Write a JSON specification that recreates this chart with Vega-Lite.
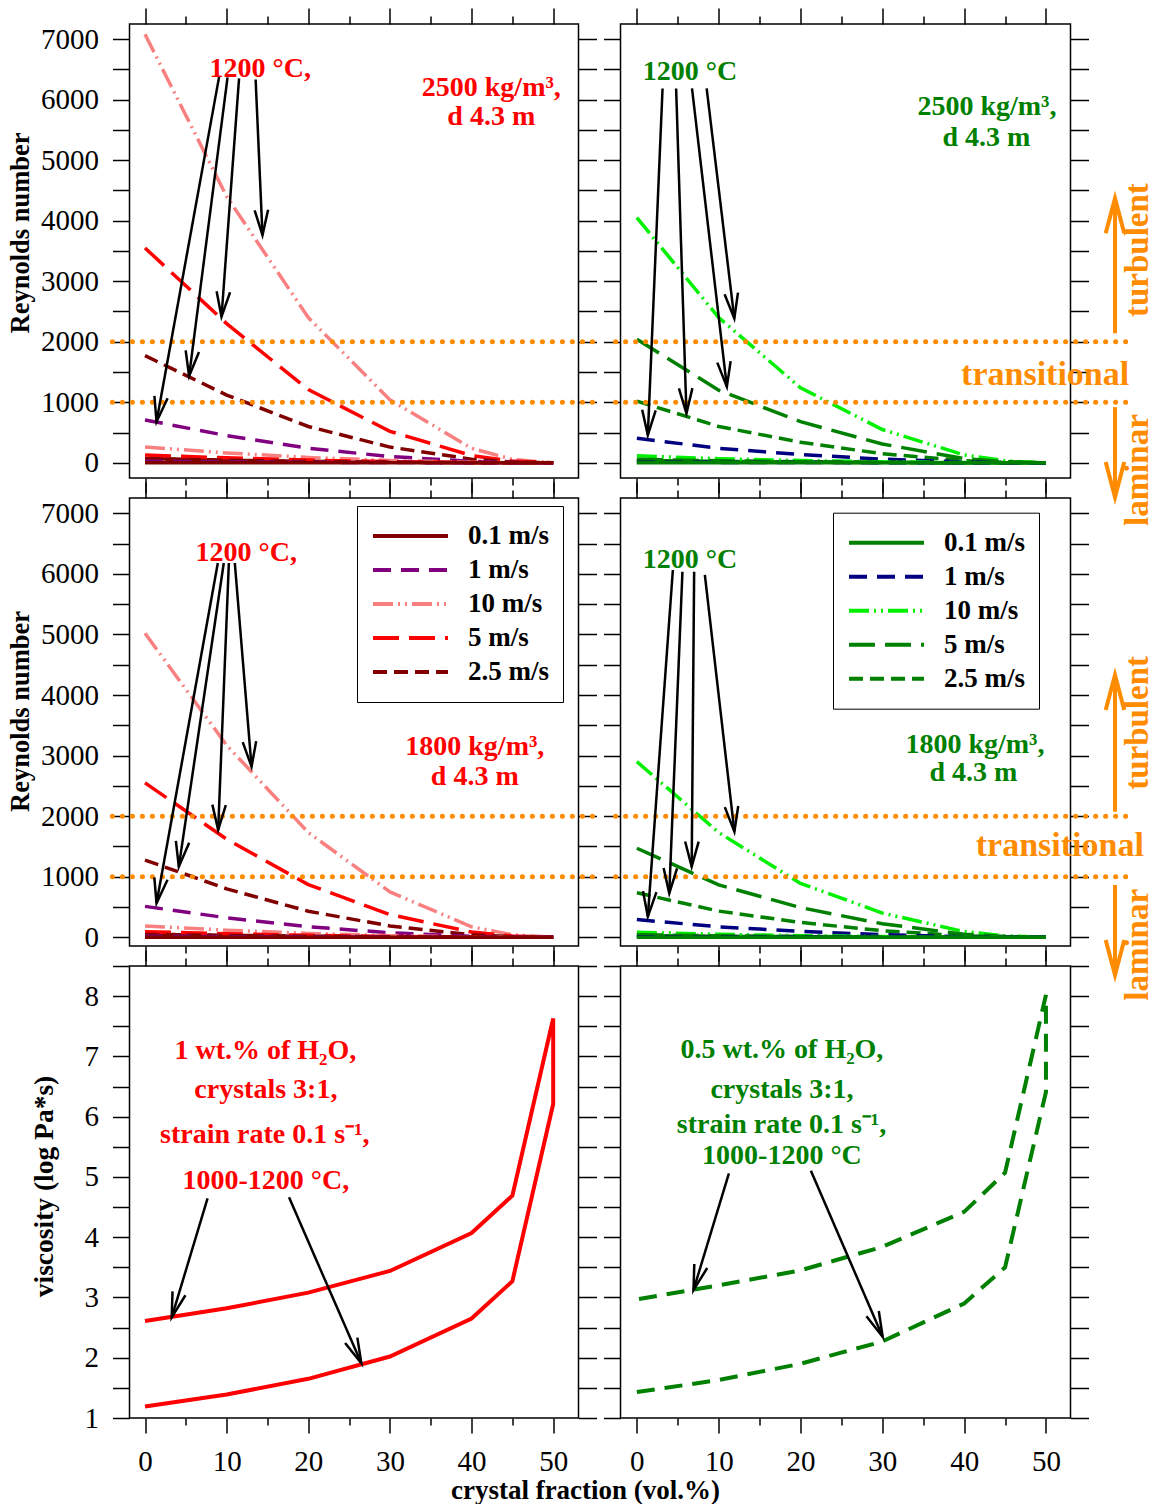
{
"$schema":"https://vega.github.io/schema/vega-lite/v6.json",
"background":"white",
"padding":{"left":6.5,"top":6,"right":0,"bottom":0},
"config":{
 "view":{"stroke":"black","strokeWidth":1.5},
 "axis":{"domain":false,"grid":false,"tickColor":"black","tickWidth":1.5,"labelFont":"Liberation Serif","labelFontSize":29,"labelColor":"black","titleFont":"Liberation Serif","titleFontSize":26.5,"titleFontWeight":"bold","titleColor":"black","labelOverlap":false,"labelFlush":false,"labelBound":false}
},
"datasets":{
"re":[
{"p":"TL","t":"h","s":"10 m/s","x":0,"y":7080},{"p":"TL","t":"h","s":"10 m/s","x":10,"y":4400},{"p":"TL","t":"h","s":"10 m/s","x":20,"y":2400},{"p":"TL","t":"h","s":"10 m/s","x":30,"y":1040},{"p":"TL","t":"h","s":"10 m/s","x":40,"y":240},{"p":"TL","t":"h","s":"10 m/s","x":45,"y":58},{"p":"TL","t":"h","s":"10 m/s","x":50,"y":0},
{"p":"TL","t":"h","s":"5 m/s","x":0,"y":3550},{"p":"TL","t":"h","s":"5 m/s","x":10,"y":2300},{"p":"TL","t":"h","s":"5 m/s","x":20,"y":1210},{"p":"TL","t":"h","s":"5 m/s","x":30,"y":520},{"p":"TL","t":"h","s":"5 m/s","x":40,"y":120},{"p":"TL","t":"h","s":"5 m/s","x":45,"y":29},{"p":"TL","t":"h","s":"5 m/s","x":50,"y":0},
{"p":"TL","t":"h","s":"2.5 m/s","x":0,"y":1770},{"p":"TL","t":"h","s":"2.5 m/s","x":10,"y":1120},{"p":"TL","t":"h","s":"2.5 m/s","x":20,"y":600},{"p":"TL","t":"h","s":"2.5 m/s","x":30,"y":260},{"p":"TL","t":"h","s":"2.5 m/s","x":40,"y":60},{"p":"TL","t":"h","s":"2.5 m/s","x":45,"y":15},{"p":"TL","t":"h","s":"2.5 m/s","x":50,"y":0},
{"p":"TL","t":"h","s":"1 m/s","x":0,"y":708},{"p":"TL","t":"h","s":"1 m/s","x":10,"y":450},{"p":"TL","t":"h","s":"1 m/s","x":20,"y":240},{"p":"TL","t":"h","s":"1 m/s","x":30,"y":104},{"p":"TL","t":"h","s":"1 m/s","x":40,"y":24},{"p":"TL","t":"h","s":"1 m/s","x":45,"y":6},{"p":"TL","t":"h","s":"1 m/s","x":50,"y":0},
{"p":"TL","t":"h","s":"0.1 m/s","x":0,"y":71},{"p":"TL","t":"h","s":"0.1 m/s","x":10,"y":44},{"p":"TL","t":"h","s":"0.1 m/s","x":20,"y":24},{"p":"TL","t":"h","s":"0.1 m/s","x":30,"y":10},{"p":"TL","t":"h","s":"0.1 m/s","x":40,"y":2.4},{"p":"TL","t":"h","s":"0.1 m/s","x":45,"y":0.6},{"p":"TL","t":"h","s":"0.1 m/s","x":50,"y":0},
{"p":"TL","t":"c","s":"10 m/s","x":0,"y":262},{"p":"TL","t":"c","s":"10 m/s","x":10,"y":163},{"p":"TL","t":"c","s":"10 m/s","x":20,"y":89},{"p":"TL","t":"c","s":"10 m/s","x":30,"y":38},{"p":"TL","t":"c","s":"10 m/s","x":40,"y":9},{"p":"TL","t":"c","s":"10 m/s","x":45,"y":2},{"p":"TL","t":"c","s":"10 m/s","x":50,"y":0},
{"p":"TL","t":"c","s":"5 m/s","x":0,"y":129},{"p":"TL","t":"c","s":"5 m/s","x":10,"y":82},{"p":"TL","t":"c","s":"5 m/s","x":20,"y":45},{"p":"TL","t":"c","s":"5 m/s","x":30,"y":19},{"p":"TL","t":"c","s":"5 m/s","x":40,"y":4.5},{"p":"TL","t":"c","s":"5 m/s","x":45,"y":1},{"p":"TL","t":"c","s":"5 m/s","x":50,"y":0},
{"p":"TL","t":"c","s":"2.5 m/s","x":0,"y":65},{"p":"TL","t":"c","s":"2.5 m/s","x":10,"y":41},{"p":"TL","t":"c","s":"2.5 m/s","x":20,"y":22},{"p":"TL","t":"c","s":"2.5 m/s","x":30,"y":10},{"p":"TL","t":"c","s":"2.5 m/s","x":40,"y":2},{"p":"TL","t":"c","s":"2.5 m/s","x":45,"y":0.5},{"p":"TL","t":"c","s":"2.5 m/s","x":50,"y":0},
{"p":"TL","t":"c","s":"1 m/s","x":0,"y":26},{"p":"TL","t":"c","s":"1 m/s","x":10,"y":16},{"p":"TL","t":"c","s":"1 m/s","x":20,"y":9},{"p":"TL","t":"c","s":"1 m/s","x":30,"y":4},{"p":"TL","t":"c","s":"1 m/s","x":40,"y":1},{"p":"TL","t":"c","s":"1 m/s","x":45,"y":0.2},{"p":"TL","t":"c","s":"1 m/s","x":50,"y":0},
{"p":"TL","t":"c","s":"0.1 m/s","x":0,"y":2.6},{"p":"TL","t":"c","s":"0.1 m/s","x":10,"y":1.6},{"p":"TL","t":"c","s":"0.1 m/s","x":20,"y":0.9},{"p":"TL","t":"c","s":"0.1 m/s","x":30,"y":0.4},{"p":"TL","t":"c","s":"0.1 m/s","x":40,"y":0.1},{"p":"TL","t":"c","s":"0.1 m/s","x":45,"y":0},{"p":"TL","t":"c","s":"0.1 m/s","x":50,"y":0},
{"p":"TR","t":"h","s":"10 m/s","x":0,"y":4050},{"p":"TR","t":"h","s":"10 m/s","x":10,"y":2400},{"p":"TR","t":"h","s":"10 m/s","x":20,"y":1240},{"p":"TR","t":"h","s":"10 m/s","x":30,"y":550},{"p":"TR","t":"h","s":"10 m/s","x":40,"y":130},{"p":"TR","t":"h","s":"10 m/s","x":45,"y":33},{"p":"TR","t":"h","s":"10 m/s","x":50,"y":0},
{"p":"TR","t":"h","s":"5 m/s","x":0,"y":2040},{"p":"TR","t":"h","s":"5 m/s","x":10,"y":1200},{"p":"TR","t":"h","s":"5 m/s","x":20,"y":680},{"p":"TR","t":"h","s":"5 m/s","x":30,"y":310},{"p":"TR","t":"h","s":"5 m/s","x":40,"y":70},{"p":"TR","t":"h","s":"5 m/s","x":45,"y":17},{"p":"TR","t":"h","s":"5 m/s","x":50,"y":0},
{"p":"TR","t":"h","s":"2.5 m/s","x":0,"y":1020},{"p":"TR","t":"h","s":"2.5 m/s","x":10,"y":600},{"p":"TR","t":"h","s":"2.5 m/s","x":20,"y":340},{"p":"TR","t":"h","s":"2.5 m/s","x":30,"y":150},{"p":"TR","t":"h","s":"2.5 m/s","x":40,"y":35},{"p":"TR","t":"h","s":"2.5 m/s","x":45,"y":8},{"p":"TR","t":"h","s":"2.5 m/s","x":50,"y":0},
{"p":"TR","t":"h","s":"1 m/s","x":0,"y":405},{"p":"TR","t":"h","s":"1 m/s","x":10,"y":240},{"p":"TR","t":"h","s":"1 m/s","x":20,"y":136},{"p":"TR","t":"h","s":"1 m/s","x":30,"y":60},{"p":"TR","t":"h","s":"1 m/s","x":40,"y":14},{"p":"TR","t":"h","s":"1 m/s","x":45,"y":3},{"p":"TR","t":"h","s":"1 m/s","x":50,"y":0},
{"p":"TR","t":"h","s":"0.1 m/s","x":0,"y":40},{"p":"TR","t":"h","s":"0.1 m/s","x":10,"y":24},{"p":"TR","t":"h","s":"0.1 m/s","x":20,"y":14},{"p":"TR","t":"h","s":"0.1 m/s","x":30,"y":6},{"p":"TR","t":"h","s":"0.1 m/s","x":40,"y":1.4},{"p":"TR","t":"h","s":"0.1 m/s","x":45,"y":0.3},{"p":"TR","t":"h","s":"0.1 m/s","x":50,"y":0},
{"p":"TR","t":"c","s":"10 m/s","x":0,"y":115},{"p":"TR","t":"c","s":"10 m/s","x":10,"y":68},{"p":"TR","t":"c","s":"10 m/s","x":20,"y":38},{"p":"TR","t":"c","s":"10 m/s","x":30,"y":16},{"p":"TR","t":"c","s":"10 m/s","x":40,"y":4},{"p":"TR","t":"c","s":"10 m/s","x":45,"y":1},{"p":"TR","t":"c","s":"10 m/s","x":50,"y":0},
{"p":"TR","t":"c","s":"5 m/s","x":0,"y":57},{"p":"TR","t":"c","s":"5 m/s","x":10,"y":34},{"p":"TR","t":"c","s":"5 m/s","x":20,"y":19},{"p":"TR","t":"c","s":"5 m/s","x":30,"y":8},{"p":"TR","t":"c","s":"5 m/s","x":40,"y":2},{"p":"TR","t":"c","s":"5 m/s","x":45,"y":0.5},{"p":"TR","t":"c","s":"5 m/s","x":50,"y":0},
{"p":"TR","t":"c","s":"2.5 m/s","x":0,"y":29},{"p":"TR","t":"c","s":"2.5 m/s","x":10,"y":17},{"p":"TR","t":"c","s":"2.5 m/s","x":20,"y":10},{"p":"TR","t":"c","s":"2.5 m/s","x":30,"y":4},{"p":"TR","t":"c","s":"2.5 m/s","x":40,"y":1},{"p":"TR","t":"c","s":"2.5 m/s","x":45,"y":0.2},{"p":"TR","t":"c","s":"2.5 m/s","x":50,"y":0},
{"p":"TR","t":"c","s":"1 m/s","x":0,"y":11},{"p":"TR","t":"c","s":"1 m/s","x":10,"y":7},{"p":"TR","t":"c","s":"1 m/s","x":20,"y":4},{"p":"TR","t":"c","s":"1 m/s","x":30,"y":1.6},{"p":"TR","t":"c","s":"1 m/s","x":40,"y":0.4},{"p":"TR","t":"c","s":"1 m/s","x":45,"y":0.1},{"p":"TR","t":"c","s":"1 m/s","x":50,"y":0},
{"p":"TR","t":"c","s":"0.1 m/s","x":0,"y":1.1},{"p":"TR","t":"c","s":"0.1 m/s","x":10,"y":0.7},{"p":"TR","t":"c","s":"0.1 m/s","x":20,"y":0.4},{"p":"TR","t":"c","s":"0.1 m/s","x":30,"y":0.2},{"p":"TR","t":"c","s":"0.1 m/s","x":40,"y":0},{"p":"TR","t":"c","s":"0.1 m/s","x":45,"y":0},{"p":"TR","t":"c","s":"0.1 m/s","x":50,"y":0},
{"p":"ML","t":"h","s":"10 m/s","x":0,"y":5020},{"p":"ML","t":"h","s":"10 m/s","x":10,"y":3170},{"p":"ML","t":"h","s":"10 m/s","x":20,"y":1730},{"p":"ML","t":"h","s":"10 m/s","x":30,"y":750},{"p":"ML","t":"h","s":"10 m/s","x":40,"y":173},{"p":"ML","t":"h","s":"10 m/s","x":45,"y":42},{"p":"ML","t":"h","s":"10 m/s","x":50,"y":0},
{"p":"ML","t":"h","s":"5 m/s","x":0,"y":2550},{"p":"ML","t":"h","s":"5 m/s","x":10,"y":1620},{"p":"ML","t":"h","s":"5 m/s","x":20,"y":870},{"p":"ML","t":"h","s":"5 m/s","x":30,"y":375},{"p":"ML","t":"h","s":"5 m/s","x":40,"y":86},{"p":"ML","t":"h","s":"5 m/s","x":45,"y":21},{"p":"ML","t":"h","s":"5 m/s","x":50,"y":0},
{"p":"ML","t":"h","s":"2.5 m/s","x":0,"y":1275},{"p":"ML","t":"h","s":"2.5 m/s","x":10,"y":800},{"p":"ML","t":"h","s":"2.5 m/s","x":20,"y":430},{"p":"ML","t":"h","s":"2.5 m/s","x":30,"y":187},{"p":"ML","t":"h","s":"2.5 m/s","x":40,"y":43},{"p":"ML","t":"h","s":"2.5 m/s","x":45,"y":11},{"p":"ML","t":"h","s":"2.5 m/s","x":50,"y":0},
{"p":"ML","t":"h","s":"1 m/s","x":0,"y":510},{"p":"ML","t":"h","s":"1 m/s","x":10,"y":322},{"p":"ML","t":"h","s":"1 m/s","x":20,"y":173},{"p":"ML","t":"h","s":"1 m/s","x":30,"y":75},{"p":"ML","t":"h","s":"1 m/s","x":40,"y":17},{"p":"ML","t":"h","s":"1 m/s","x":45,"y":4},{"p":"ML","t":"h","s":"1 m/s","x":50,"y":0},
{"p":"ML","t":"h","s":"0.1 m/s","x":0,"y":51},{"p":"ML","t":"h","s":"0.1 m/s","x":10,"y":32},{"p":"ML","t":"h","s":"0.1 m/s","x":20,"y":17},{"p":"ML","t":"h","s":"0.1 m/s","x":30,"y":7.5},{"p":"ML","t":"h","s":"0.1 m/s","x":40,"y":1.7},{"p":"ML","t":"h","s":"0.1 m/s","x":45,"y":0.4},{"p":"ML","t":"h","s":"0.1 m/s","x":50,"y":0},
{"p":"ML","t":"c","s":"10 m/s","x":0,"y":188},{"p":"ML","t":"c","s":"10 m/s","x":10,"y":117},{"p":"ML","t":"c","s":"10 m/s","x":20,"y":64},{"p":"ML","t":"c","s":"10 m/s","x":30,"y":27},{"p":"ML","t":"c","s":"10 m/s","x":40,"y":6.5},{"p":"ML","t":"c","s":"10 m/s","x":45,"y":1.4},{"p":"ML","t":"c","s":"10 m/s","x":50,"y":0},
{"p":"ML","t":"c","s":"5 m/s","x":0,"y":93},{"p":"ML","t":"c","s":"5 m/s","x":10,"y":59},{"p":"ML","t":"c","s":"5 m/s","x":20,"y":32},{"p":"ML","t":"c","s":"5 m/s","x":30,"y":14},{"p":"ML","t":"c","s":"5 m/s","x":40,"y":3.2},{"p":"ML","t":"c","s":"5 m/s","x":45,"y":0.7},{"p":"ML","t":"c","s":"5 m/s","x":50,"y":0},
{"p":"ML","t":"c","s":"2.5 m/s","x":0,"y":46},{"p":"ML","t":"c","s":"2.5 m/s","x":10,"y":29},{"p":"ML","t":"c","s":"2.5 m/s","x":20,"y":16},{"p":"ML","t":"c","s":"2.5 m/s","x":30,"y":7},{"p":"ML","t":"c","s":"2.5 m/s","x":40,"y":1.6},{"p":"ML","t":"c","s":"2.5 m/s","x":45,"y":0.4},{"p":"ML","t":"c","s":"2.5 m/s","x":50,"y":0},
{"p":"ML","t":"c","s":"1 m/s","x":0,"y":19},{"p":"ML","t":"c","s":"1 m/s","x":10,"y":12},{"p":"ML","t":"c","s":"1 m/s","x":20,"y":6.4},{"p":"ML","t":"c","s":"1 m/s","x":30,"y":2.7},{"p":"ML","t":"c","s":"1 m/s","x":40,"y":0.6},{"p":"ML","t":"c","s":"1 m/s","x":45,"y":0.1},{"p":"ML","t":"c","s":"1 m/s","x":50,"y":0},
{"p":"ML","t":"c","s":"0.1 m/s","x":0,"y":1.9},{"p":"ML","t":"c","s":"0.1 m/s","x":10,"y":1.2},{"p":"ML","t":"c","s":"0.1 m/s","x":20,"y":0.6},{"p":"ML","t":"c","s":"0.1 m/s","x":30,"y":0.3},{"p":"ML","t":"c","s":"0.1 m/s","x":40,"y":0.1},{"p":"ML","t":"c","s":"0.1 m/s","x":45,"y":0},{"p":"ML","t":"c","s":"0.1 m/s","x":50,"y":0},
{"p":"MR","t":"h","s":"10 m/s","x":0,"y":2900},{"p":"MR","t":"h","s":"10 m/s","x":10,"y":1730},{"p":"MR","t":"h","s":"10 m/s","x":20,"y":890},{"p":"MR","t":"h","s":"10 m/s","x":30,"y":400},{"p":"MR","t":"h","s":"10 m/s","x":40,"y":94},{"p":"MR","t":"h","s":"10 m/s","x":45,"y":24},{"p":"MR","t":"h","s":"10 m/s","x":50,"y":0},
{"p":"MR","t":"h","s":"5 m/s","x":0,"y":1470},{"p":"MR","t":"h","s":"5 m/s","x":10,"y":865},{"p":"MR","t":"h","s":"5 m/s","x":20,"y":490},{"p":"MR","t":"h","s":"5 m/s","x":30,"y":223},{"p":"MR","t":"h","s":"5 m/s","x":40,"y":50},{"p":"MR","t":"h","s":"5 m/s","x":45,"y":12},{"p":"MR","t":"h","s":"5 m/s","x":50,"y":0},
{"p":"MR","t":"h","s":"2.5 m/s","x":0,"y":735},{"p":"MR","t":"h","s":"2.5 m/s","x":10,"y":432},{"p":"MR","t":"h","s":"2.5 m/s","x":20,"y":245},{"p":"MR","t":"h","s":"2.5 m/s","x":30,"y":108},{"p":"MR","t":"h","s":"2.5 m/s","x":40,"y":25},{"p":"MR","t":"h","s":"2.5 m/s","x":45,"y":6},{"p":"MR","t":"h","s":"2.5 m/s","x":50,"y":0},
{"p":"MR","t":"h","s":"1 m/s","x":0,"y":292},{"p":"MR","t":"h","s":"1 m/s","x":10,"y":173},{"p":"MR","t":"h","s":"1 m/s","x":20,"y":98},{"p":"MR","t":"h","s":"1 m/s","x":30,"y":43},{"p":"MR","t":"h","s":"1 m/s","x":40,"y":10},{"p":"MR","t":"h","s":"1 m/s","x":45,"y":2.5},{"p":"MR","t":"h","s":"1 m/s","x":50,"y":0},
{"p":"MR","t":"h","s":"0.1 m/s","x":0,"y":29},{"p":"MR","t":"h","s":"0.1 m/s","x":10,"y":17},{"p":"MR","t":"h","s":"0.1 m/s","x":20,"y":10},{"p":"MR","t":"h","s":"0.1 m/s","x":30,"y":4.3},{"p":"MR","t":"h","s":"0.1 m/s","x":40,"y":1},{"p":"MR","t":"h","s":"0.1 m/s","x":45,"y":0.2},{"p":"MR","t":"h","s":"0.1 m/s","x":50,"y":0},
{"p":"MR","t":"c","s":"10 m/s","x":0,"y":83},{"p":"MR","t":"c","s":"10 m/s","x":10,"y":49},{"p":"MR","t":"c","s":"10 m/s","x":20,"y":27},{"p":"MR","t":"c","s":"10 m/s","x":30,"y":11.5},{"p":"MR","t":"c","s":"10 m/s","x":40,"y":2.7},{"p":"MR","t":"c","s":"10 m/s","x":45,"y":0.6},{"p":"MR","t":"c","s":"10 m/s","x":50,"y":0},
{"p":"MR","t":"c","s":"5 m/s","x":0,"y":41},{"p":"MR","t":"c","s":"5 m/s","x":10,"y":24},{"p":"MR","t":"c","s":"5 m/s","x":20,"y":14},{"p":"MR","t":"c","s":"5 m/s","x":30,"y":6},{"p":"MR","t":"c","s":"5 m/s","x":40,"y":1.4},{"p":"MR","t":"c","s":"5 m/s","x":45,"y":0.3},{"p":"MR","t":"c","s":"5 m/s","x":50,"y":0},
{"p":"MR","t":"c","s":"2.5 m/s","x":0,"y":21},{"p":"MR","t":"c","s":"2.5 m/s","x":10,"y":12},{"p":"MR","t":"c","s":"2.5 m/s","x":20,"y":7},{"p":"MR","t":"c","s":"2.5 m/s","x":30,"y":3},{"p":"MR","t":"c","s":"2.5 m/s","x":40,"y":0.7},{"p":"MR","t":"c","s":"2.5 m/s","x":45,"y":0.2},{"p":"MR","t":"c","s":"2.5 m/s","x":50,"y":0},
{"p":"MR","t":"c","s":"1 m/s","x":0,"y":8},{"p":"MR","t":"c","s":"1 m/s","x":10,"y":5},{"p":"MR","t":"c","s":"1 m/s","x":20,"y":3},{"p":"MR","t":"c","s":"1 m/s","x":30,"y":1.2},{"p":"MR","t":"c","s":"1 m/s","x":40,"y":0.3},{"p":"MR","t":"c","s":"1 m/s","x":45,"y":0.1},{"p":"MR","t":"c","s":"1 m/s","x":50,"y":0},
{"p":"MR","t":"c","s":"0.1 m/s","x":0,"y":0.8},{"p":"MR","t":"c","s":"0.1 m/s","x":10,"y":0.5},{"p":"MR","t":"c","s":"0.1 m/s","x":20,"y":0.3},{"p":"MR","t":"c","s":"0.1 m/s","x":30,"y":0.1},{"p":"MR","t":"c","s":"0.1 m/s","x":40,"y":0},{"p":"MR","t":"c","s":"0.1 m/s","x":45,"y":0},{"p":"MR","t":"c","s":"0.1 m/s","x":50,"y":0}
],
"visc":[
{"p":"BL","o":1,"x":0,"y":1.19},{"p":"BL","o":2,"x":10,"y":1.39},{"p":"BL","o":3,"x":20,"y":1.65},{"p":"BL","o":4,"x":30,"y":2.02},{"p":"BL","o":5,"x":40,"y":2.65},{"p":"BL","o":6,"x":45,"y":3.27},{"p":"BL","o":7,"x":50,"y":6.21},
{"p":"BL","o":8,"x":50,"y":7.63},{"p":"BL","o":9,"x":45,"y":4.69},{"p":"BL","o":10,"x":40,"y":4.07},{"p":"BL","o":11,"x":30,"y":3.44},{"p":"BL","o":12,"x":20,"y":3.08},{"p":"BL","o":13,"x":10,"y":2.82},{"p":"BL","o":14,"x":0,"y":2.61},
{"p":"BR","o":1,"x":0,"y":1.43},{"p":"BR","o":2,"x":10,"y":1.63},{"p":"BR","o":3,"x":20,"y":1.9},{"p":"BR","o":4,"x":30,"y":2.27},{"p":"BR","o":5,"x":40,"y":2.9},{"p":"BR","o":6,"x":45,"y":3.5},{"p":"BR","o":7,"x":50,"y":6.41},
{"p":"BR","o":8,"x":50,"y":8.02},{"p":"BR","o":9,"x":45,"y":5.07},{"p":"BR","o":10,"x":40,"y":4.42},{"p":"BR","o":11,"x":30,"y":3.84},{"p":"BR","o":12,"x":20,"y":3.45},{"p":"BR","o":13,"x":10,"y":3.2},{"p":"BR","o":14,"x":0,"y":2.97}
],
"arr":[
{"p":"TL","a":"1s","o":1,"x":9.07,"y":6372},{"p":"TL","a":"1s","o":2,"x":1.41,"y":677},{"p":"TL","a":"1h","o":1,"x":2.77,"y":1066},{"p":"TL","a":"1h","o":2,"x":1.41,"y":677},{"p":"TL","a":"1h","o":3,"x":1.15,"y":1106},
{"p":"TL","a":"2s","o":1,"x":10.11,"y":6367},{"p":"TL","a":"2s","o":2,"x":5.40,"y":1432},{"p":"TL","a":"2h","o":1,"x":6.61,"y":1830},{"p":"TL","a":"2h","o":2,"x":5.40,"y":1432},{"p":"TL","a":"2h","o":3,"x":4.98,"y":1858},
{"p":"TL","a":"3s","o":1,"x":11.52,"y":6351},{"p":"TL","a":"3s","o":2,"x":9.37,"y":2412},{"p":"TL","a":"3h","o":1,"x":10.42,"y":2818},{"p":"TL","a":"3h","o":2,"x":9.37,"y":2412},{"p":"TL","a":"3h","o":3,"x":8.77,"y":2834},
{"p":"TL","a":"4s","o":1,"x":13.55,"y":6334},{"p":"TL","a":"4s","o":2,"x":14.39,"y":3762},{"p":"TL","a":"4h","o":1,"x":15.08,"y":4181},{"p":"TL","a":"4h","o":2,"x":14.39,"y":3762},{"p":"TL","a":"4h","o":3,"x":13.43,"y":4172},
{"p":"TR","a":"1s","o":1,"x":3.14,"y":6185},{"p":"TR","a":"1s","o":2,"x":1.34,"y":458},{"p":"TR","a":"1h","o":1,"x":2.30,"y":867},{"p":"TR","a":"1h","o":2,"x":1.34,"y":458},{"p":"TR","a":"1h","o":3,"x":0.65,"y":877},
{"p":"TR","a":"2s","o":1,"x":4.80,"y":6185},{"p":"TR","a":"2s","o":2,"x":6.06,"y":816},{"p":"TR","a":"2h","o":1,"x":6.79,"y":1234},{"p":"TR","a":"2h","o":2,"x":6.06,"y":816},{"p":"TR","a":"2h","o":3,"x":5.14,"y":1228},
{"p":"TR","a":"3s","o":1,"x":6.74,"y":6185},{"p":"TR","a":"3s","o":2,"x":11.00,"y":1256},{"p":"TR","a":"3h","o":1,"x":11.46,"y":1681},{"p":"TR","a":"3h","o":2,"x":11.00,"y":1256},{"p":"TR","a":"3h","o":3,"x":9.83,"y":1655},
{"p":"TR","a":"4s","o":1,"x":8.53,"y":6185},{"p":"TR","a":"4s","o":2,"x":11.91,"y":2386},{"p":"TR","a":"4h","o":1,"x":12.36,"y":2811},{"p":"TR","a":"4h","o":2,"x":11.91,"y":2386},{"p":"TR","a":"4h","o":3,"x":10.72,"y":2784},
{"p":"ML","a":"1s","o":1,"x":8.92,"y":6180},{"p":"ML","a":"1s","o":2,"x":1.41,"y":561},{"p":"ML","a":"1h","o":1,"x":2.76,"y":950},{"p":"ML","a":"1h","o":2,"x":1.41,"y":561},{"p":"ML","a":"1h","o":3,"x":1.14,"y":989},
{"p":"ML","a":"2s","o":1,"x":9.65,"y":6180},{"p":"ML","a":"2s","o":2,"x":4.14,"y":1166},{"p":"ML","a":"2h","o":1,"x":5.41,"y":1560},{"p":"ML","a":"2h","o":2,"x":4.14,"y":1166},{"p":"ML","a":"2h","o":3,"x":3.78,"y":1592},
{"p":"ML","a":"3s","o":1,"x":10.27,"y":6180},{"p":"ML","a":"3s","o":2,"x":8.96,"y":1772},{"p":"ML","a":"3h","o":1,"x":9.90,"y":2181},{"p":"ML","a":"3h","o":2,"x":8.96,"y":1772},{"p":"ML","a":"3h","o":3,"x":8.25,"y":2190},
{"p":"ML","a":"4s","o":1,"x":11.0,"y":6180},{"p":"ML","a":"4s","o":2,"x":13.05,"y":2817},{"p":"ML","a":"4h","o":1,"x":13.62,"y":3239},{"p":"ML","a":"4h","o":2,"x":13.05,"y":2817},{"p":"ML","a":"4h","o":3,"x":11.97,"y":3221},
{"p":"MR","a":"1s","o":1,"x":4.40,"y":6064},{"p":"MR","a":"1s","o":2,"x":1.34,"y":340},{"p":"MR","a":"1h","o":1,"x":2.39,"y":746},{"p":"MR","a":"1h","o":2,"x":1.34,"y":340},{"p":"MR","a":"1h","o":3,"x":0.75,"y":762},
{"p":"MR","a":"2s","o":1,"x":5.57,"y":6036},{"p":"MR","a":"2s","o":2,"x":3.96,"y":726},{"p":"MR","a":"2h","o":1,"x":4.91,"y":1136},{"p":"MR","a":"2h","o":2,"x":3.96,"y":726},{"p":"MR","a":"2h","o":3,"x":3.27,"y":1145},
{"p":"MR","a":"3s","o":1,"x":7.00,"y":6036},{"p":"MR","a":"3s","o":2,"x":6.70,"y":1166},{"p":"MR","a":"3h","o":1,"x":7.55,"y":1579},{"p":"MR","a":"3h","o":2,"x":6.70,"y":1166},{"p":"MR","a":"3h","o":3,"x":5.90,"y":1581},
{"p":"MR","a":"4s","o":1,"x":8.31,"y":5982},{"p":"MR","a":"4s","o":2,"x":11.92,"y":1743},{"p":"MR","a":"4h","o":1,"x":12.39,"y":2168},{"p":"MR","a":"4h","o":2,"x":11.92,"y":1743},{"p":"MR","a":"4h","o":3,"x":10.75,"y":2149},
{"p":"BL","a":"1s","o":1,"x":7.66,"y":4.644},{"p":"BL","a":"1s","o":2,"x":3.27,"y":2.670},{"p":"BL","a":"1h","o":1,"x":4.95,"y":3.037},{"p":"BL","a":"1h","o":2,"x":3.27,"y":2.670},{"p":"BL","a":"1h","o":3,"x":3.37,"y":3.101},
{"p":"BL","a":"2s","o":1,"x":17.64,"y":4.661},{"p":"BL","a":"2s","o":2,"x":26.50,"y":1.907},{"p":"BL","a":"2h","o":1,"x":26.01,"y":2.334},{"p":"BL","a":"2h","o":2,"x":26.50,"y":1.907},{"p":"BL","a":"2h","o":3,"x":24.51,"y":2.245},
{"p":"BR","a":"1s","o":1,"x":11.25,"y":5.059},{"p":"BR","a":"1s","o":2,"x":6.92,"y":3.123},{"p":"BR","a":"1h","o":1,"x":8.60,"y":3.489},{"p":"BR","a":"1h","o":2,"x":6.92,"y":3.123},{"p":"BR","a":"1h","o":3,"x":7.02,"y":3.554},
{"p":"BR","a":"2s","o":1,"x":21.27,"y":5.102},{"p":"BR","a":"2s","o":2,"x":30.04,"y":2.348},{"p":"BR","a":"2h","o":1,"x":29.57,"y":2.775},{"p":"BR","a":"2h","o":2,"x":30.04,"y":2.348},{"p":"BR","a":"2h","o":3,"x":28.06,"y":2.687},
{"p":"TRo","a":"us","o":1,"x":58.44,"y":2139},{"p":"TRo","a":"us","o":2,"x":58.44,"y":4369},{"p":"TRo","a":"uh","o":1,"x":57.30,"y":3792},{"p":"TRo","a":"uh","o":2,"x":58.44,"y":4369},{"p":"TRo","a":"uh","o":3,"x":59.57,"y":3792},
{"p":"TRo","a":"ds","o":1,"x":58.44,"y":920},{"p":"TRo","a":"ds","o":2,"x":58.44,"y":-568},{"p":"TRo","a":"dh","o":1,"x":57.30,"y":12},{"p":"TRo","a":"dh","o":2,"x":58.44,"y":-568},{"p":"TRo","a":"dh","o":3,"x":59.57,"y":12},
{"p":"MRo","a":"us","o":1,"x":58.44,"y":2074},{"p":"MRo","a":"us","o":2,"x":58.44,"y":4331},{"p":"MRo","a":"uh","o":1,"x":57.30,"y":3752},{"p":"MRo","a":"uh","o":2,"x":58.44,"y":4331},{"p":"MRo","a":"uh","o":3,"x":59.57,"y":3752},
{"p":"MRo","a":"ds","o":1,"x":58.44,"y":863},{"p":"MRo","a":"ds","o":2,"x":58.44,"y":-622},{"p":"MRo","a":"dh","o":1,"x":57.30,"y":-45},{"p":"MRo","a":"dh","o":2,"x":58.44,"y":-622},{"p":"MRo","a":"dh","o":3,"x":59.57,"y":-45}
],
"rules":[
{"p":"TL","x":-4,"x2":55.6,"y":2000},{"p":"TL","x":-4,"x2":55.6,"y":1000},
{"p":"TR","x":-2.6,"x2":60.3,"y":2000},{"p":"TR","x":-2.6,"x2":60.3,"y":1000},
{"p":"ML","x":-4,"x2":55.6,"y":2000},{"p":"ML","x":-4,"x2":55.6,"y":1000},
{"p":"MR","x":-2.6,"x2":60.3,"y":2000},{"p":"MR","x":-2.6,"x2":60.3,"y":1000}
],
"txt":[
{"p":"TL","x":14.12,"y":6380,"t":"1200 °C,"},{"p":"TL","x":42.42,"y":6058,"t":"2500 kg/m³,"},{"p":"TL","x":42.42,"y":5579,"t":"d 4.3 m"},
{"p":"TR","x":6.48,"y":6323,"t":"1200 °C"},{"p":"TR","x":42.79,"y":5753,"t":"2500 kg/m³,"},{"p":"TR","x":42.73,"y":5232,"t":"d 4.3 m"},
{"p":"ML","x":12.41,"y":6213,"t":"1200 °C,"},{"p":"ML","x":40.40,"y":3010,"t":"1800 kg/m³,"},{"p":"ML","x":40.40,"y":2514,"t":"d 4.3 m"},
{"p":"MR","x":6.48,"y":6097,"t":"1200 °C"},{"p":"MR","x":41.32,"y":3043,"t":"1800 kg/m³,"},{"p":"MR","x":41.14,"y":2580,"t":"d 4.3 m"},
{"p":"BL","x":14.74,"y":6.955,"t":"1 wt.% of H₂O,"},{"p":"BL","x":14.80,"y":6.313,"t":"crystals 3:1,"},{"p":"BL","x":14.68,"y":5.561,"t":"strain rate 0.1 s⁻¹,"},{"p":"BL","x":14.80,"y":4.793,"t":"1000-1200 °C,"},
{"p":"BR","x":17.73,"y":6.966,"t":"0.5 wt.% of H₂O,"},{"p":"BR","x":17.73,"y":6.303,"t":"crystals 3:1,"},{"p":"BR","x":17.68,"y":5.732,"t":"strain rate 0.1 s⁻¹,"},{"p":"BR","x":17.73,"y":5.213,"t":"1000-1200 °C"},
{"p":"TRr","x":62.47,"y":3514,"t":"turbulent"},{"p":"TRr","x":62.47,"y":-121,"t":"laminar"},{"p":"TRh","x":49.9,"y":1284,"t":"transitional"},
{"p":"MRr","x":62.47,"y":3539,"t":"turbulent"},{"p":"MRr","x":62.47,"y":-125,"t":"laminar"},{"p":"MRh","x":51.7,"y":1342,"t":"transitional"}
]
},
"columns":2,
"bounds":"flush",
"spacing":{"row":20,"column":42},
"resolve":{"scale":{"x":"independent","y":"independent","color":"independent","strokeDash":"independent"},"legend":{"color":"independent","strokeDash":"independent"}},
"concat":[
  {"width":449,"height":454,
   "layer":[
    {"data":{"name":"re"},"transform":[{"filter":"datum.p==='TL'"}],
     "mark":{"type":"line","strokeWidth":3.5,"clip":false},
     "encoding":{
      "x":{"field":"x","type":"quantitative","scale":{"domain":[-1.9,53.1],"nice":false,"zero":false},"axis":{"orient":"bottom","values":[0,5,10,15,20,25,30,35,40,45,50],"labels":false,"title":null,"tickSize":{"condition":{"test":"datum.value % 10 === 0","value":15},"value":7}}},
      "y":{"field":"y","type":"quantitative","scale":{"domain":[-251,7250],"nice":false,"zero":false},"axis":{"orient":"left","values":[0,500,1000,1500,2000,2500,3000,3500,4000,4500,5000,5500,6000,6500,7000],"labelExpr":"datum.value % 1000 === 0 ? '' + datum.value : ''","tickSize":17,"labelPadding":14,"title":"Reynolds number","titleX":-100.6,"titleY":208.5,"titleAngle":270,"titleAlign":"center","titleBaseline":"alphabetic"}},
      "color":{"field":"s","type":"nominal","scale":{"domain":["0.1 m/s","1 m/s","10 m/s","5 m/s","2.5 m/s"],"range":["#800000","#800080","#F88080","#FF0000","#800000"]},"legend":null},
      "strokeDash":{"field":"s","type":"nominal","scale":{"domain":["0.1 m/s","1 m/s","10 m/s","5 m/s","2.5 m/s"],"range":[[1,0],[18,10],[20,5,2,5,2,5],[26,10],[14,7]]},"legend":null},
      "detail":{"field":"t"}}},
    {"data":{"name":"rules"},"transform":[{"filter":"datum.p==='TL'"}],
     "mark":{"type":"rule","color":"#FF8C00","strokeWidth":5,"strokeDash":[0.1,9.9],"strokeCap":"round","clip":false},
     "encoding":{
      "x":{"field":"x","type":"quantitative","scale":{"domain":[-1.9,53.1],"nice":false,"zero":false},"axis":{"orient":"top","values":[0,5,10,15,20,25,30,35,40,45,50],"labels":false,"title":null,"tickSize":{"condition":{"test":"datum.value % 10 === 0","value":16},"value":8}}},
      "x2":{"field":"x2"},
      "y":{"field":"y","type":"quantitative","scale":{"domain":[-251,7250],"nice":false,"zero":false},"axis":{"orient":"right","values":[0,500,1000,1500,2000,2500,3000,3500,4000,4500,5000,5500,6000,6500,7000],"labels":false,"title":null,"tickSize":18}}}},
    {"data":{"name":"arr"},"transform":[{"filter":"datum.p==='TL'"}],
     "mark":{"type":"line","color":"black","strokeWidth":2.5,"clip":false},
     "encoding":{"x":{"field":"x","type":"quantitative","axis":null},"y":{"field":"y","type":"quantitative","axis":null},"detail":{"field":"a"},"order":{"field":"o"}}},
    {"data":{"name":"txt"},"transform":[{"filter":"datum.p==='TL'"}],
     "mark":{"type":"text","font":"Liberation Serif","fontWeight":"bold","fontSize":28,"color":"#FF0000","align":"center","baseline":"alphabetic","clip":false},
     "encoding":{"x":{"field":"x","type":"quantitative","axis":null},"y":{"field":"y","type":"quantitative","axis":null},"text":{"field":"t"}}}
   ],
   "resolve":{"axis":{"x":"independent","y":"independent"}}},
  {"width":450,"height":454,
   "layer":[
    {"data":{"name":"re"},"transform":[{"filter":"datum.p==='TR'"}],
     "mark":{"type":"line","strokeWidth":3.5,"clip":false},
     "encoding":{
      "x":{"field":"x","type":"quantitative","scale":{"domain":[-2,53],"nice":false,"zero":false},"axis":{"orient":"bottom","values":[0,5,10,15,20,25,30,35,40,45,50],"labels":false,"title":null,"tickSize":{"condition":{"test":"datum.value % 10 === 0","value":15},"value":7}}},
      "y":{"field":"y","type":"quantitative","scale":{"domain":[-251,7250],"nice":false,"zero":false},"axis":{"orient":"left","values":[0,500,1000,1500,2000,2500,3000,3500,4000,4500,5000,5500,6000,6500,7000],"labels":false,"title":null,"tickSize":17}},
      "color":{"field":"s","type":"nominal","scale":{"domain":["0.1 m/s","1 m/s","10 m/s","5 m/s","2.5 m/s"],"range":["#008000","#000080","#00F000","#008000","#008000"]},"legend":null},
      "strokeDash":{"field":"s","type":"nominal","scale":{"domain":["0.1 m/s","1 m/s","10 m/s","5 m/s","2.5 m/s"],"range":[[1,0],[18,10],[20,5,2,5,2,5],[26,10],[14,7]]},"legend":null},
      "detail":{"field":"t"}}},
    {"data":{"name":"rules"},"transform":[{"filter":"datum.p==='TR'"}],
     "mark":{"type":"rule","color":"#FF8C00","strokeWidth":5,"strokeDash":[0.1,9.9],"strokeCap":"round","clip":false},
     "encoding":{
      "x":{"field":"x","type":"quantitative","scale":{"domain":[-2,53],"nice":false,"zero":false},"axis":{"orient":"top","values":[0,5,10,15,20,25,30,35,40,45,50],"labels":false,"title":null,"tickSize":{"condition":{"test":"datum.value % 10 === 0","value":16},"value":8}}},
      "x2":{"field":"x2"},
      "y":{"field":"y","type":"quantitative","scale":{"domain":[-251,7250],"nice":false,"zero":false},"axis":{"orient":"right","values":[0,500,1000,1500,2000,2500,3000,3500,4000,4500,5000,5500,6000,6500,7000],"labels":false,"title":null,"tickSize":18}}}},
    {"data":{"name":"arr"},"transform":[{"filter":"datum.p==='TR'"}],
     "mark":{"type":"line","color":"black","strokeWidth":2.5,"clip":false},
     "encoding":{"x":{"field":"x","type":"quantitative","axis":null},"y":{"field":"y","type":"quantitative","axis":null},"detail":{"field":"a"},"order":{"field":"o"}}},
    {"data":{"name":"arr"},"transform":[{"filter":"datum.p==='TRo'"}],
     "mark":{"type":"line","color":"#FF8C00","strokeWidth":4,"clip":false},
     "encoding":{"x":{"field":"x","type":"quantitative","axis":null},"y":{"field":"y","type":"quantitative","axis":null},"detail":{"field":"a"},"order":{"field":"o"}}},
    {"data":{"name":"txt"},"transform":[{"filter":"datum.p==='TR'"}],
     "mark":{"type":"text","font":"Liberation Serif","fontWeight":"bold","fontSize":28,"color":"#008000","align":"center","baseline":"alphabetic","clip":false},
     "encoding":{"x":{"field":"x","type":"quantitative","axis":null},"y":{"field":"y","type":"quantitative","axis":null},"text":{"field":"t"}}},
    {"data":{"name":"txt"},"transform":[{"filter":"datum.p==='TRr'"}],
     "mark":{"type":"text","font":"Liberation Serif","fontWeight":"bold","fontSize":33,"color":"#FF8C00","align":"center","baseline":"alphabetic","angle":270,"clip":false},
     "encoding":{"x":{"field":"x","type":"quantitative","axis":null},"y":{"field":"y","type":"quantitative","axis":null},"text":{"field":"t"}}},
    {"data":{"name":"txt"},"transform":[{"filter":"datum.p==='TRh'"}],
     "mark":{"type":"text","font":"Liberation Serif","fontWeight":"bold","fontSize":34,"color":"#FF8C00","align":"center","baseline":"alphabetic","clip":false},
     "encoding":{"x":{"field":"x","type":"quantitative","axis":null},"y":{"field":"y","type":"quantitative","axis":null},"text":{"field":"t"}}}
   ],
   "resolve":{"axis":{"x":"independent","y":"independent"}}},
  {"width":449,"height":448,
   "layer":[
    {"data":{"name":"re"},"transform":[{"filter":"datum.p==='ML'"}],
     "mark":{"type":"line","strokeWidth":3.5,"clip":false},
     "encoding":{
      "x":{"field":"x","type":"quantitative","scale":{"domain":[-1.9,53.1],"nice":false,"zero":false},"axis":{"orient":"bottom","values":[0,5,10,15,20,25,30,35,40,45,50],"labels":false,"title":null,"tickSize":{"condition":{"test":"datum.value % 10 === 0","value":15},"value":7}}},
      "y":{"field":"y","type":"quantitative","scale":{"domain":[-144,7253],"nice":false,"zero":false},"axis":{"orient":"left","values":[0,500,1000,1500,2000,2500,3000,3500,4000,4500,5000,5500,6000,6500,7000],"labelExpr":"datum.value % 1000 === 0 ? '' + datum.value : ''","tickSize":17,"labelPadding":14,"title":"Reynolds number","titleX":-100.6,"titleY":213,"titleAngle":270,"titleAlign":"center","titleBaseline":"alphabetic"}},
      "color":{"field":"s","type":"nominal","scale":{"domain":["0.1 m/s","1 m/s","10 m/s","5 m/s","2.5 m/s"],"range":["#800000","#800080","#F88080","#FF0000","#800000"]},
        "legend":{"orient":"none","legendX":227.5,"legendY":8,"title":null,"symbolType":"stroke","symbolSize":5625,"symbolStrokeWidth":4,"clipHeight":32,"rowPadding":2,"labelFont":"Liberation Serif","labelFontSize":27,"labelFontWeight":"bold","labelColor":"black","labelOffset":18,"padding":14,"strokeColor":"black","fillColor":"white","labelLimit":300}},
      "strokeDash":{"field":"s","type":"nominal","scale":{"domain":["0.1 m/s","1 m/s","10 m/s","5 m/s","2.5 m/s"],"range":[[1,0],[18,10],[20,5,2,5,2,5],[26,10],[14,7]]},
        "legend":{"orient":"none","legendX":227.5,"legendY":8,"title":null,"symbolType":"stroke","symbolSize":5625,"symbolStrokeWidth":4,"clipHeight":32,"rowPadding":2,"labelFont":"Liberation Serif","labelFontSize":27,"labelFontWeight":"bold","labelColor":"black","labelOffset":18,"padding":14,"strokeColor":"black","fillColor":"white","labelLimit":300}},
      "detail":{"field":"t"}}},
    {"data":{"name":"rules"},"transform":[{"filter":"datum.p==='ML'"}],
     "mark":{"type":"rule","color":"#FF8C00","strokeWidth":5,"strokeDash":[0.1,9.9],"strokeCap":"round","clip":false},
     "encoding":{
      "x":{"field":"x","type":"quantitative","scale":{"domain":[-1.9,53.1],"nice":false,"zero":false},"axis":{"orient":"top","values":[0,5,10,15,20,25,30,35,40,45,50],"labels":false,"title":null,"tickSize":{"condition":{"test":"datum.value % 10 === 0","value":16},"value":8}}},
      "x2":{"field":"x2"},
      "y":{"field":"y","type":"quantitative","scale":{"domain":[-144,7253],"nice":false,"zero":false},"axis":{"orient":"right","values":[0,500,1000,1500,2000,2500,3000,3500,4000,4500,5000,5500,6000,6500,7000],"labels":false,"title":null,"tickSize":18}}}},
    {"data":{"name":"arr"},"transform":[{"filter":"datum.p==='ML'"}],
     "mark":{"type":"line","color":"black","strokeWidth":2.5,"clip":false},
     "encoding":{"x":{"field":"x","type":"quantitative","axis":null},"y":{"field":"y","type":"quantitative","axis":null},"detail":{"field":"a"},"order":{"field":"o"}}},
    {"data":{"name":"txt"},"transform":[{"filter":"datum.p==='ML'"}],
     "mark":{"type":"text","font":"Liberation Serif","fontWeight":"bold","fontSize":28,"color":"#FF0000","align":"center","baseline":"alphabetic","clip":false},
     "encoding":{"x":{"field":"x","type":"quantitative","axis":null},"y":{"field":"y","type":"quantitative","axis":null},"text":{"field":"t"}}}
   ],
   "resolve":{"axis":{"x":"independent","y":"independent"}}},
  {"width":450,"height":448,
   "layer":[
    {"data":{"name":"re"},"transform":[{"filter":"datum.p==='MR'"}],
     "mark":{"type":"line","strokeWidth":3.5,"clip":false},
     "encoding":{
      "x":{"field":"x","type":"quantitative","scale":{"domain":[-2,53],"nice":false,"zero":false},"axis":{"orient":"bottom","values":[0,5,10,15,20,25,30,35,40,45,50],"labels":false,"title":null,"tickSize":{"condition":{"test":"datum.value % 10 === 0","value":15},"value":7}}},
      "y":{"field":"y","type":"quantitative","scale":{"domain":[-144,7253],"nice":false,"zero":false},"axis":{"orient":"left","values":[0,500,1000,1500,2000,2500,3000,3500,4000,4500,5000,5500,6000,6500,7000],"labels":false,"title":null,"tickSize":17}},
      "color":{"field":"s","type":"nominal","scale":{"domain":["0.1 m/s","1 m/s","10 m/s","5 m/s","2.5 m/s"],"range":["#008000","#000080","#00F000","#008000","#008000"]},
        "legend":{"orient":"none","legendX":212.5,"legendY":14.7,"title":null,"symbolType":"stroke","symbolSize":5625,"symbolStrokeWidth":4,"clipHeight":32,"rowPadding":2,"labelFont":"Liberation Serif","labelFontSize":27,"labelFontWeight":"bold","labelColor":"black","labelOffset":18,"padding":14,"strokeColor":"black","fillColor":"white","labelLimit":300}},
      "strokeDash":{"field":"s","type":"nominal","scale":{"domain":["0.1 m/s","1 m/s","10 m/s","5 m/s","2.5 m/s"],"range":[[1,0],[18,10],[20,5,2,5,2,5],[26,10],[14,7]]},
        "legend":{"orient":"none","legendX":212.5,"legendY":14.7,"title":null,"symbolType":"stroke","symbolSize":5625,"symbolStrokeWidth":4,"clipHeight":32,"rowPadding":2,"labelFont":"Liberation Serif","labelFontSize":27,"labelFontWeight":"bold","labelColor":"black","labelOffset":18,"padding":14,"strokeColor":"black","fillColor":"white","labelLimit":300}},
      "detail":{"field":"t"}}},
    {"data":{"name":"rules"},"transform":[{"filter":"datum.p==='MR'"}],
     "mark":{"type":"rule","color":"#FF8C00","strokeWidth":5,"strokeDash":[0.1,9.9],"strokeCap":"round","clip":false},
     "encoding":{
      "x":{"field":"x","type":"quantitative","scale":{"domain":[-2,53],"nice":false,"zero":false},"axis":{"orient":"top","values":[0,5,10,15,20,25,30,35,40,45,50],"labels":false,"title":null,"tickSize":{"condition":{"test":"datum.value % 10 === 0","value":16},"value":8}}},
      "x2":{"field":"x2"},
      "y":{"field":"y","type":"quantitative","scale":{"domain":[-144,7253],"nice":false,"zero":false},"axis":{"orient":"right","values":[0,500,1000,1500,2000,2500,3000,3500,4000,4500,5000,5500,6000,6500,7000],"labels":false,"title":null,"tickSize":18}}}},
    {"data":{"name":"arr"},"transform":[{"filter":"datum.p==='MR'"}],
     "mark":{"type":"line","color":"black","strokeWidth":2.5,"clip":false},
     "encoding":{"x":{"field":"x","type":"quantitative","axis":null},"y":{"field":"y","type":"quantitative","axis":null},"detail":{"field":"a"},"order":{"field":"o"}}},
    {"data":{"name":"arr"},"transform":[{"filter":"datum.p==='MRo'"}],
     "mark":{"type":"line","color":"#FF8C00","strokeWidth":4,"clip":false},
     "encoding":{"x":{"field":"x","type":"quantitative","axis":null},"y":{"field":"y","type":"quantitative","axis":null},"detail":{"field":"a"},"order":{"field":"o"}}},
    {"data":{"name":"txt"},"transform":[{"filter":"datum.p==='MR'"}],
     "mark":{"type":"text","font":"Liberation Serif","fontWeight":"bold","fontSize":28,"color":"#008000","align":"center","baseline":"alphabetic","clip":false},
     "encoding":{"x":{"field":"x","type":"quantitative","axis":null},"y":{"field":"y","type":"quantitative","axis":null},"text":{"field":"t"}}},
    {"data":{"name":"txt"},"transform":[{"filter":"datum.p==='MRr'"}],
     "mark":{"type":"text","font":"Liberation Serif","fontWeight":"bold","fontSize":33,"color":"#FF8C00","align":"center","baseline":"alphabetic","angle":270,"clip":false},
     "encoding":{"x":{"field":"x","type":"quantitative","axis":null},"y":{"field":"y","type":"quantitative","axis":null},"text":{"field":"t"}}},
    {"data":{"name":"txt"},"transform":[{"filter":"datum.p==='MRh'"}],
     "mark":{"type":"text","font":"Liberation Serif","fontWeight":"bold","fontSize":34,"color":"#FF8C00","align":"center","baseline":"alphabetic","clip":false},
     "encoding":{"x":{"field":"x","type":"quantitative","axis":null},"y":{"field":"y","type":"quantitative","axis":null},"text":{"field":"t"}}}
   ],
   "resolve":{"axis":{"x":"independent","y":"independent"}}},
  {"width":449,"height":452,
   "layer":[
    {"data":{"name":"visc"},"transform":[{"filter":"datum.p==='BL'"}],
     "mark":{"type":"line","color":"#FF0000","strokeWidth":4,"clip":false},
     "encoding":{
      "x":{"field":"x","type":"quantitative","scale":{"domain":[-1.9,53.1],"nice":false,"zero":false},"axis":{"orient":"bottom","values":[0,5,10,15,20,25,30,35,40,45,50],"labelExpr":"datum.value % 10 === 0 ? '' + datum.value : ''","labelPadding":14,"tickSize":{"condition":{"test":"datum.value % 10 === 0","value":15},"value":7},"title":"crystal fraction (vol.%)","titleFontSize":27,"titleX":455.5,"titleY":80,"titleAlign":"center","titleBaseline":"alphabetic"}},
      "y":{"field":"y","type":"quantitative","scale":{"domain":[1,8.5],"nice":false,"zero":false},"axis":{"orient":"left","values":[1,1.5,2,2.5,3,3.5,4,4.5,5,5.5,6,6.5,7,7.5,8,8.5],"labelExpr":"datum.value % 1 === 0 ? '' + datum.value : ''","tickSize":17,"labelPadding":14,"title":"viscosity (log Pa*s)","titleFontSize":27.5,"titleX":-77,"titleY":220,"titleAngle":270,"titleAlign":"center","titleBaseline":"alphabetic"}},
      "order":{"field":"o"}}},
    {"data":{"name":"arr"},"transform":[{"filter":"datum.p==='BL'"}],
     "mark":{"type":"line","color":"black","strokeWidth":2.5,"clip":false},
     "encoding":{
      "x":{"field":"x","type":"quantitative","scale":{"domain":[-1.9,53.1],"nice":false,"zero":false},"axis":{"orient":"top","values":[0,5,10,15,20,25,30,35,40,45,50],"labels":false,"title":null,"tickSize":{"condition":{"test":"datum.value % 10 === 0","value":16},"value":8}}},
      "y":{"field":"y","type":"quantitative","scale":{"domain":[1,8.5],"nice":false,"zero":false},"axis":{"orient":"right","values":[1,1.5,2,2.5,3,3.5,4,4.5,5,5.5,6,6.5,7,7.5,8,8.5],"labels":false,"title":null,"tickSize":18}},
      "detail":{"field":"a"},"order":{"field":"o"}}},
    {"data":{"name":"txt"},"transform":[{"filter":"datum.p==='BL'"}],
     "mark":{"type":"text","font":"Liberation Serif","fontWeight":"bold","fontSize":28,"color":"#FF0000","align":"center","baseline":"alphabetic","clip":false},
     "encoding":{"x":{"field":"x","type":"quantitative","axis":null},"y":{"field":"y","type":"quantitative","axis":null},"text":{"field":"t"}}}
   ],
   "resolve":{"axis":{"x":"independent","y":"independent"}}},
  {"width":450,"height":452,
   "layer":[
    {"data":{"name":"visc"},"transform":[{"filter":"datum.p==='BR'"}],
     "mark":{"type":"line","color":"#008000","strokeWidth":4,"strokeDash":[18,10],"clip":false},
     "encoding":{
      "x":{"field":"x","type":"quantitative","scale":{"domain":[-2,53],"nice":false,"zero":false},"axis":{"orient":"bottom","values":[0,5,10,15,20,25,30,35,40,45,50],"labelExpr":"datum.value % 10 === 0 ? '' + datum.value : ''","labelPadding":14,"tickSize":{"condition":{"test":"datum.value % 10 === 0","value":15},"value":7},"title":null}},
      "y":{"field":"y","type":"quantitative","scale":{"domain":[1,8.5],"nice":false,"zero":false},"axis":{"orient":"left","values":[1,1.5,2,2.5,3,3.5,4,4.5,5,5.5,6,6.5,7,7.5,8,8.5],"labels":false,"tickSize":17,"title":null}},
      "order":{"field":"o"}}},
    {"data":{"name":"arr"},"transform":[{"filter":"datum.p==='BR'"}],
     "mark":{"type":"line","color":"black","strokeWidth":2.5,"clip":false},
     "encoding":{
      "x":{"field":"x","type":"quantitative","scale":{"domain":[-2,53],"nice":false,"zero":false},"axis":{"orient":"top","values":[0,5,10,15,20,25,30,35,40,45,50],"labels":false,"title":null,"tickSize":{"condition":{"test":"datum.value % 10 === 0","value":16},"value":8}}},
      "y":{"field":"y","type":"quantitative","scale":{"domain":[1,8.5],"nice":false,"zero":false},"axis":{"orient":"right","values":[1,1.5,2,2.5,3,3.5,4,4.5,5,5.5,6,6.5,7,7.5,8,8.5],"labels":false,"title":null,"tickSize":18}},
      "detail":{"field":"a"},"order":{"field":"o"}}},
    {"data":{"name":"txt"},"transform":[{"filter":"datum.p==='BR'"}],
     "mark":{"type":"text","font":"Liberation Serif","fontWeight":"bold","fontSize":28,"color":"#008000","align":"center","baseline":"alphabetic","clip":false},
     "encoding":{"x":{"field":"x","type":"quantitative","axis":null},"y":{"field":"y","type":"quantitative","axis":null},"text":{"field":"t"}}}
   ],
   "resolve":{"axis":{"x":"independent","y":"independent"}}}
]
}
